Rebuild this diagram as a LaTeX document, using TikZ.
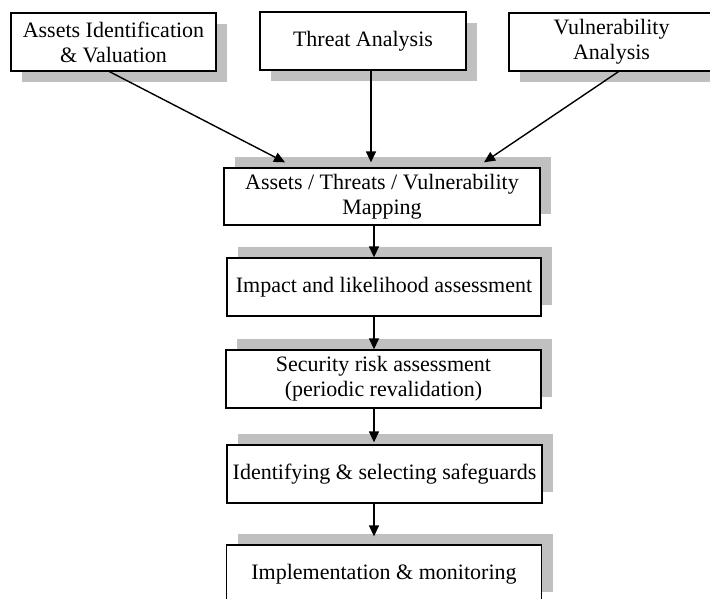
\documentclass[tikz,border=0pt]{standalone}
\usepackage{fontspec}
\setmainfont{Liberation Serif}
\usetikzlibrary{arrows.meta,shadows}
\definecolor{shadowgray}{HTML}{C0C0C0}
\begin{document}
\begin{tikzpicture}[x=1pt, y=1pt,
    box/.style={draw, fill=white, line width=1.3pt, align=center, inner sep=0pt,
        minimum height=58pt, font=\fontsize{22}{25}\selectfont},
    shadowdown/.style={drop shadow={shadow xshift=11pt, shadow yshift=-11pt, fill=shadowgray, opacity=1}},
    shadowup/.style={drop shadow={shadow xshift=11pt, shadow yshift=11pt, fill=shadowgray, opacity=1}},
    arr/.style={-{Triangle[length=11pt,width=10pt]}, line width=1.4pt}]
    \useasboundingbox (0,0) rectangle (710,599);
    \clip (0,0) rectangle (710,599);
    % Top row: three analyses
    \node[box, shadowdown, minimum width=205pt] (assets) at (113.5,557) {Assets Identification\\ \& Valuation};
    \node[box, shadowdown, minimum width=206pt] (threat) at (363,558) {Threat Analysis};
    \node[box, shadowdown, minimum width=205pt] (vuln) at (611.5,557) {Vulnerability\\ Analysis};
    % Process chain
    \node[box, shadowup, minimum width=316pt, minimum height=57pt] (mapping) at (382,402.5) {Assets / Threats / Vulnerability\\ Mapping};
    \node[box, shadowup, minimum width=314pt] (impact) at (384,312) {Impact and likelihood assessment};
    \node[box, shadowup, minimum width=315pt] (security) at (383.5,220) {Security risk assessment\\ (periodic revalidation)};
    \node[box, shadowup, minimum width=315pt] (safeguards) at (384.5,125) {Identifying \& selecting safeguards};
    \node[box, shadowup, minimum width=315pt] (impl) at (384,25) {Implementation \& monitoring};
    % Arrows
    \draw[arr] ([xshift=-4pt]assets.south) -- ([shift={(-97,5)}]mapping.north);
    \draw[arr] ([xshift=8pt]threat.south) -- ([shift={(-11,5)}]mapping.north);
    \draw[arr] ([xshift=7pt]vuln.south) -- ([shift={(102,5)}]mapping.north);
    \draw[arr] ([xshift=-8pt]mapping.south) -- ([xshift=-10pt]impact.north);
    \draw[arr] ([xshift=-10pt]impact.south) -- ([xshift=-9.5pt]security.north);
    \draw[arr] ([xshift=-9.5pt]security.south) -- ([shift={(-10.5,2)}]safeguards.north);
    \draw[arr] ([xshift=-10.5pt]safeguards.south) -- ([shift={(-10,8)}]impl.north);
\end{tikzpicture}
\end{document}
